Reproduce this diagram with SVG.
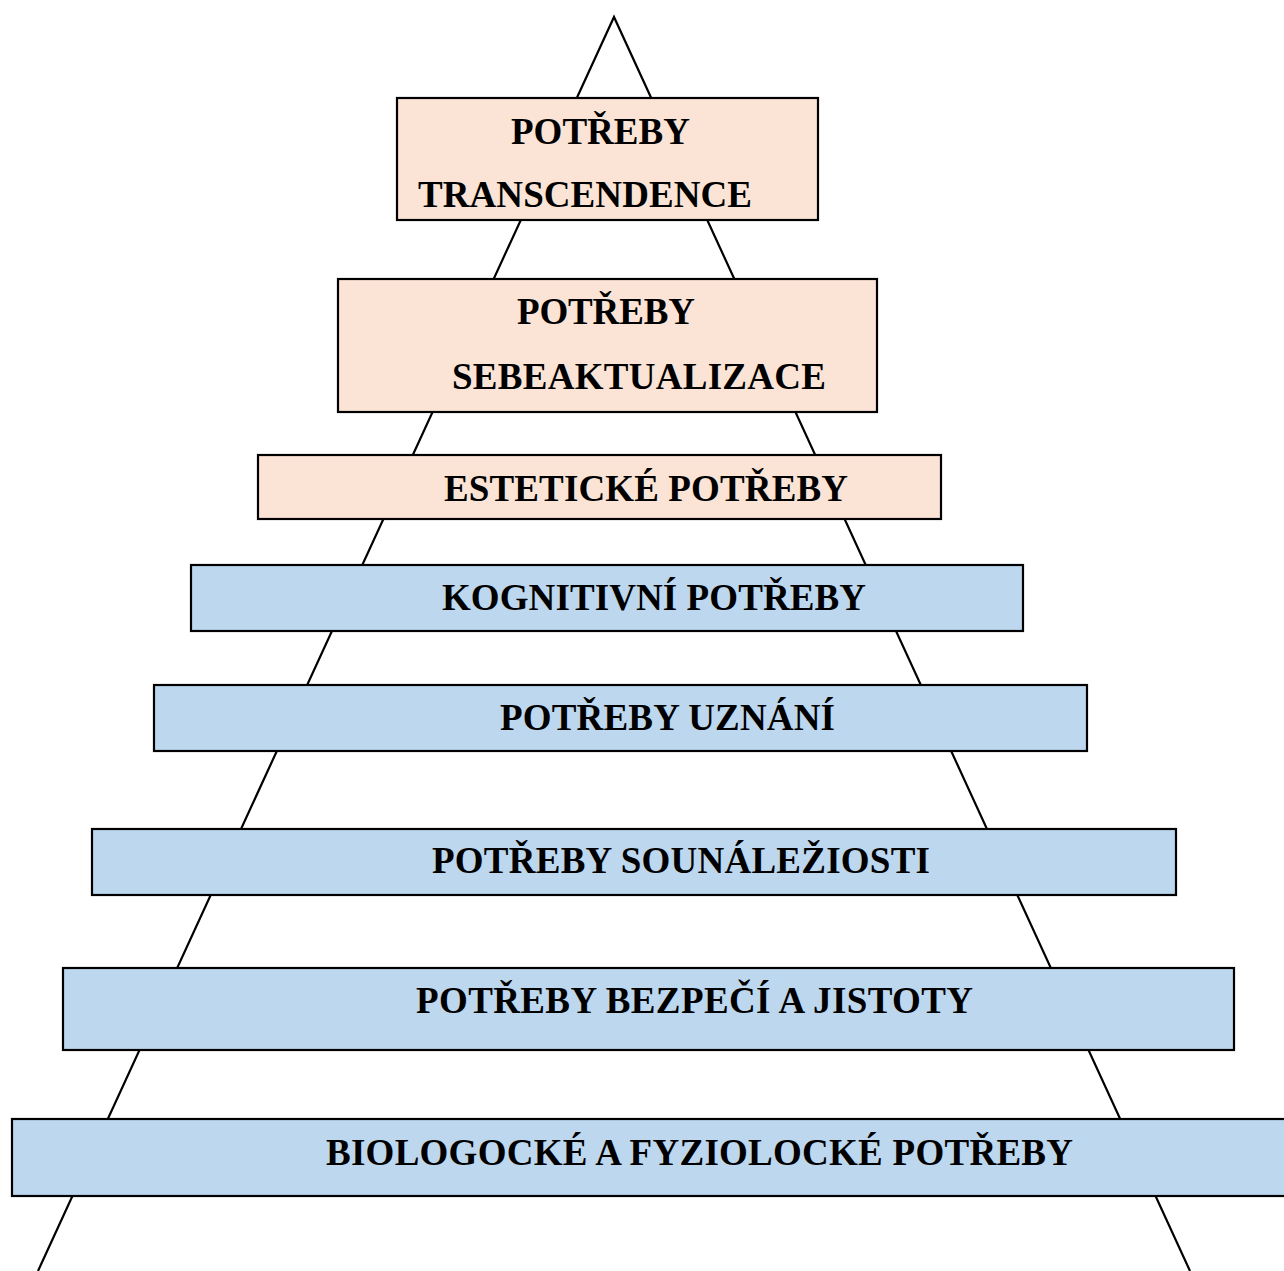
<svg xmlns="http://www.w3.org/2000/svg" width="1284" height="1271" viewBox="0 0 1284 1271">
<style>
.peach{fill:#FBE4D5;stroke:#000;stroke-width:2.2}
.blue{fill:#BDD7EE;stroke:#000;stroke-width:2.2}
.t{font-family:"Liberation Serif","Times New Roman",serif;font-weight:bold;font-size:37px;fill:#000}
.edge{fill:none;stroke:#000;stroke-width:2.2}
</style>
<rect width="1284" height="1271" fill="#fff"/>
<g id="connectors">
<polyline class="edge" points="38,1271 614,17 1190,1271"/>
</g>
<g id="n1"><rect class="peach" x="397" y="98" width="421" height="122"/>
<text class="t" x="511" y="144" textLength="179">POTŘEBY</text>
<text class="t" x="418" y="207" textLength="334">TRANSCENDENCE</text></g>
<g id="n2"><rect class="peach" x="338" y="279" width="539" height="133"/>
<text class="t" x="517" y="324" textLength="178">POTŘEBY</text>
<text class="t" x="452" y="389" textLength="374">SEBEAKTUALIZACE</text></g>
<g id="n3"><rect class="peach" x="258" y="455" width="683" height="64"/>
<text class="t" x="444" y="501" textLength="404">ESTETICKÉ POTŘEBY</text></g>
<g id="n4"><rect class="blue" x="191" y="565" width="832" height="66"/>
<text class="t" x="442" y="610" textLength="424">KOGNITIVNÍ POTŘEBY</text></g>
<g id="n5"><rect class="blue" x="154" y="685" width="933" height="66"/>
<text class="t" x="500" y="730" textLength="335">POTŘEBY UZNÁNÍ</text></g>
<g id="n6"><rect class="blue" x="92" y="829" width="1084" height="66"/>
<text class="t" x="432" y="873" textLength="498">POTŘEBY SOUNÁLEŽIOSTI</text></g>
<g id="n7"><rect class="blue" x="63" y="968" width="1171" height="82"/>
<text class="t" x="416" y="1013" textLength="557">POTŘEBY BEZPEČÍ A JISTOTY</text></g>
<g id="n8"><rect class="blue" x="12" y="1119" width="1280" height="77"/>
<text class="t" x="326" y="1165" textLength="747">BIOLOGOCKÉ A FYZIOLOCKÉ POTŘEBY</text></g>
</svg>
